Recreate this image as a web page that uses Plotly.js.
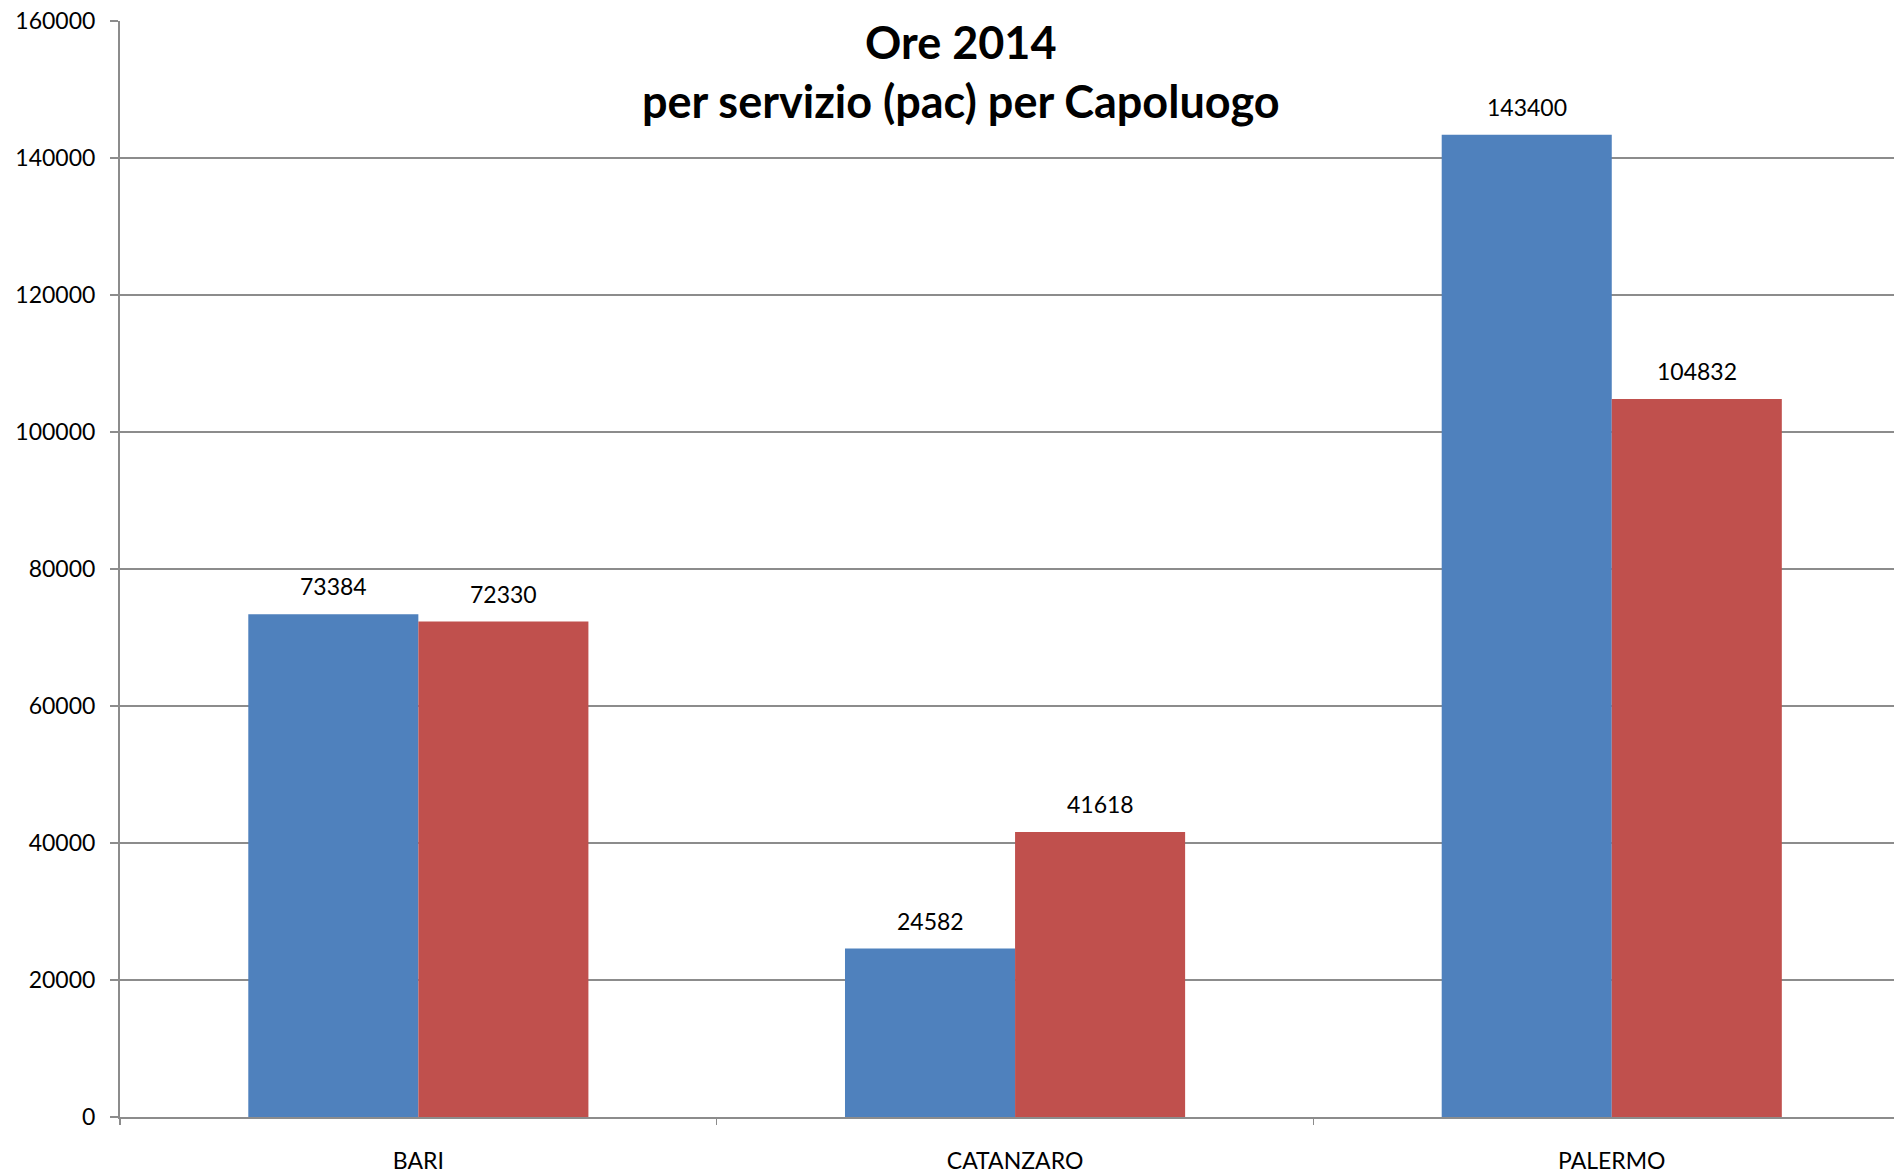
<!DOCTYPE html>
<html>
<head>
<meta charset="utf-8">
<script src="https://cdn.plot.ly/plotly-3.0.1.min.js"></script>
<style>html,body{margin:0;padding:0;background:#fff;}#chart{width:1894px;height:1173px;}</style>
</head>
<body>
<div id="chart"></div>
<script>
const categories = ["BARI", "CATANZARO", "PALERMO"];
const serie1 = [73384, 24582, 143400];
const serie2 = [72330, 41618, 104832];
const yTicks = [0, 20000, 40000, 60000, 80000, 100000, 120000, 140000, 160000];
const titleLines = ["Ore 2014", "per servizio (pac) per Capoluogo"];

const FONT = "Lato, 'Liberation Sans', sans-serif";
const GRID = "#8c8c8c";

const traces = [
  {type: "bar", name: "Serie 1", x: categories, y: serie1, marker: {color: "#4F81BD"}, hoverinfo: "x+y"},
  {type: "bar", name: "Serie 2", x: categories, y: serie2, marker: {color: "#C0504D"}, hoverinfo: "x+y"}
];

const annotations = [];
[serie1, serie2].forEach((s, si) => {
  s.forEach((v, i) => {
    annotations.push({
      x: categories[i], y: v, xref: "x", yref: "y",
      text: String(v), showarrow: false,
      xshift: si === 0 ? -85 : 85, yshift: 28,
      font: {family: FONT, size: 23, color: "#000"}
    });
  });
});

// Chart title (two lines), placed as a paper annotation
annotations.push({
  text: "<b>" + titleLines.join("<br>") + "</b>",
  xref: "paper", yref: "paper",
  x: (961 - 120) / 1774, y: 1 - (72 - 21) / 1097,
  xanchor: "center", yanchor: "middle",
  showarrow: false, align: "center",
  font: {family: FONT, size: 45, color: "#000"}
});

const layout = {
  width: 1894, height: 1173,
  paper_bgcolor: "#fff", plot_bgcolor: "#fff",
  margin: {l: 120, r: 0, t: 21, b: 56, pad: 0},
  showlegend: false,
  barmode: "group", bargap: 0.43, bargroupgap: 0,
  xaxis: {
    type: "category",
    range: [-0.5, 2.473],
    showline: true, linecolor: GRID, linewidth: 2,
    ticks: "outside", tickson: "boundaries", ticklen: 6, tickcolor: GRID, tickwidth: 1.5,
    showgrid: false, zeroline: false,
    tickfont: {family: FONT, size: 23, color: "#000"},
    ticklabelstandoff: 22
  },
  yaxis: {
    range: [0, 160000],
    tickvals: yTicks, ticktext: yTicks.map(String),
    showline: true, linecolor: GRID, linewidth: 2,
    ticks: "outside", ticklen: 8, tickcolor: GRID, tickwidth: 1.5,
    showgrid: true, gridcolor: GRID, gridwidth: 1.5,
    zeroline: false,
    tickfont: {family: FONT, size: 23, color: "#000"},
    ticklabelstandoff: 10
  },
  annotations: annotations
};

Plotly.newPlot("chart", traces, layout, {displayModeBar: false, staticPlot: true});
</script>
</body>
</html>
